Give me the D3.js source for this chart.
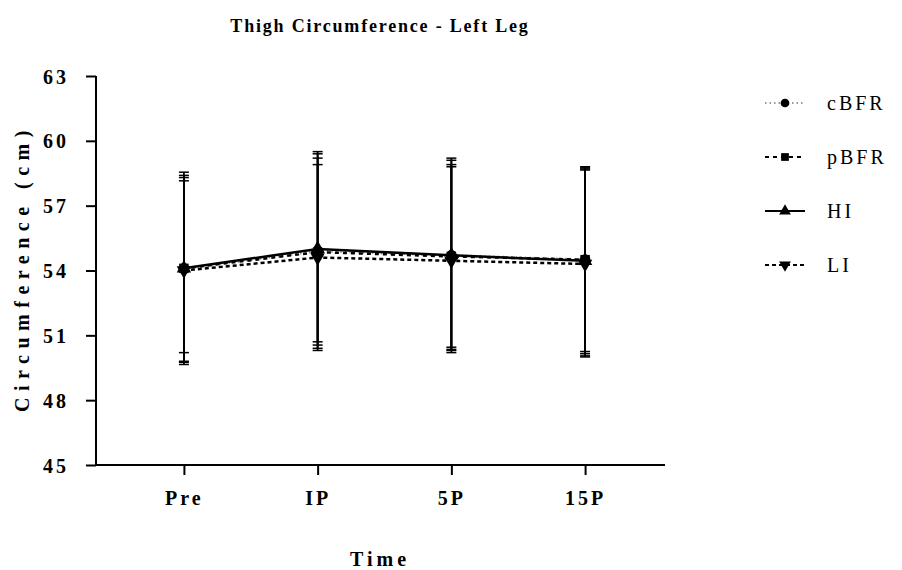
<!DOCTYPE html>
<html><head><meta charset="utf-8">
<script src="https://cdn.jsdelivr.net/npm/d3@7"></script>
<style>body{margin:0;background:#fff}svg{display:block}text{font-family:"Liberation Serif","Times New Roman",serif;fill:#000}</style>
</head><body><div id="chart"></div>
<script>
const categories = ["Pre", "IP", "5P", "15P"];
const seriesNames = ["cBFR", "pBFR", "HI", "LI"];
const cBFR = [54.1, 54.9, 54.7, 54.5];
const pBFR = [54.1, 54.85, 54.65, 54.5];
const HI = [54.1, 55.0, 54.7, 54.45];
const LI = [54.0, 54.6, 54.45, 54.3];
const cBFRHigh = [58.55, 59.5, 59.2, 58.8];
const pBFRHigh = [58.3, 59.2, 59.1, 58.75];
const HIHigh = [58.4, 59.4, 58.9, 58.7];
const LIHigh = [58.15, 58.9, 58.8, 58.65];
const cBFRLow = [49.75, 50.3, 50.3, 50.05];
const pBFRLow = [49.65, 50.55, 50.2, 50.0];
const HILow = [50.2, 50.4, 50.35, 50.15];
const LILow = [49.8, 50.7, 50.45, 50.25];
const yTicks = [45, 48, 51, 54, 57, 60, 63];
const title = "Thigh Circumference - Left Leg";
const xTitle = "Time";
const yTitle = "Circumference (cm)";

const series = [
  {name: seriesNames[0], mean: cBFR, hi: cBFRHigh, lo: cBFRLow, dash: "1.5,3", color: "#999", sym: d3.symbolCircle},
  {name: seriesNames[1], mean: pBFR, hi: pBFRHigh, lo: pBFRLow, dash: "4,4", color: "#000", sym: d3.symbolSquare},
  {name: seriesNames[2], mean: HI, hi: HIHigh, lo: HILow, dash: null, color: "#000", sym: d3.symbolTriangle},
  {name: seriesNames[3], mean: LI, hi: LIHigh, lo: LILow, dash: "4,3", color: "#000", sym: "down"}
];

const W = 902, H = 570;
const svg = d3.select("#chart").append("svg").attr("width", W).attr("height", H);
const x = d3.scalePoint().domain(categories).range([101, 668]).padding(0.62);
const y = d3.scaleLinear().domain([45, 63]).range([465, 76]);

svg.append("text").attr("x", 380).attr("y", 32).attr("text-anchor", "middle")
  .attr("font-size", 18).attr("font-weight", "bold").attr("letter-spacing", "1.8px").text(title);

const yAx = svg.append("g").attr("transform", "translate(96,0)")
  .call(d3.axisLeft(y).tickValues(yTicks).tickSize(10).tickPadding(17).tickFormat(d3.format("d")));
const xAx = svg.append("g").attr("transform", "translate(0,465)")
  .call(d3.axisBottom(x).tickSize(10).tickPadding(16));
[yAx, xAx].forEach(g => {
  g.select(".domain").attr("stroke", "#000").attr("stroke-width", 2);
  g.selectAll(".tick line").attr("stroke", "#000").attr("stroke-width", 2);
  g.selectAll(".tick text").attr("font-size", 20).attr("font-weight", "bold")
    .attr("font-family", "Liberation Serif, serif").attr("letter-spacing", "3px").attr("fill", "#000");
});
yAx.select(".domain").attr("d", "M0,465V76");
xAx.select(".domain").attr("d", "M96,0H665");
yAx.selectAll(".tick text").attr("dy", "0.35em");

svg.append("text").attr("x", 380).attr("y", 566).attr("text-anchor", "middle")
  .attr("font-size", 20).attr("font-weight", "bold").attr("letter-spacing", "4px").text(xTitle);
svg.append("text").attr("transform", "translate(29,268) rotate(-90)").attr("text-anchor", "middle")
  .attr("font-size", 20).attr("font-weight", "bold").attr("letter-spacing", "6.5px").text(yTitle);

function symPath(s, size) {
  if (s === "down") return d3.symbol(d3.symbolTriangle, size)();
  return d3.symbol(s, size)();
}

series.forEach(s => {
  const g = svg.append("g");
  categories.forEach((c, i) => {
    const cx = x(c);
    g.append("line").attr("x1", cx).attr("x2", cx).attr("y1", y(s.hi[i])).attr("y2", y(s.lo[i]))
      .attr("stroke", "#000").attr("stroke-width", 1.8);
    [s.hi[i], s.lo[i]].forEach(v => {
      g.append("line").attr("x1", cx - 5).attr("x2", cx + 5).attr("y1", y(v)).attr("y2", y(v))
        .attr("stroke", "#000").attr("stroke-width", 1.5);
    });
  });
});

const line = d3.line().x((d, i) => x(categories[i])).y(d => y(d));
series.forEach(s => {
  svg.append("path").attr("d", line(s.mean)).attr("fill", "none")
    .attr("stroke", s.color).attr("stroke-width", 2.5)
    .attr("stroke-dasharray", s.dash);
});
series.forEach(s => {
  s.mean.forEach((v, i) => {
    svg.append("path").attr("d", symPath(s.sym, 90))
      .attr("transform", `translate(${x(categories[i])},${y(v)})` + (s.sym === "down" ? " rotate(180)" : ""))
      .attr("fill", "#000");
  });
});

const legY = [103, 157, 211, 265];
series.forEach((s, i) => {
  const g = svg.append("g").attr("transform", `translate(765,${legY[i]})`);
  g.append("line").attr("x1", 0).attr("x2", 40).attr("y1", 0).attr("y2", 0)
    .attr("stroke", s.color).attr("stroke-width", 2).attr("stroke-dasharray", s.dash);
  g.append("path").attr("d", symPath(s.sym, 60))
    .attr("transform", `translate(20,0)` + (s.sym === "down" ? " rotate(180)" : "")).attr("fill", "#000");
  g.append("text").attr("x", 62).attr("y", 7).attr("font-size", 20).attr("letter-spacing", "3px").text(s.name);
});
</script></body></html>
